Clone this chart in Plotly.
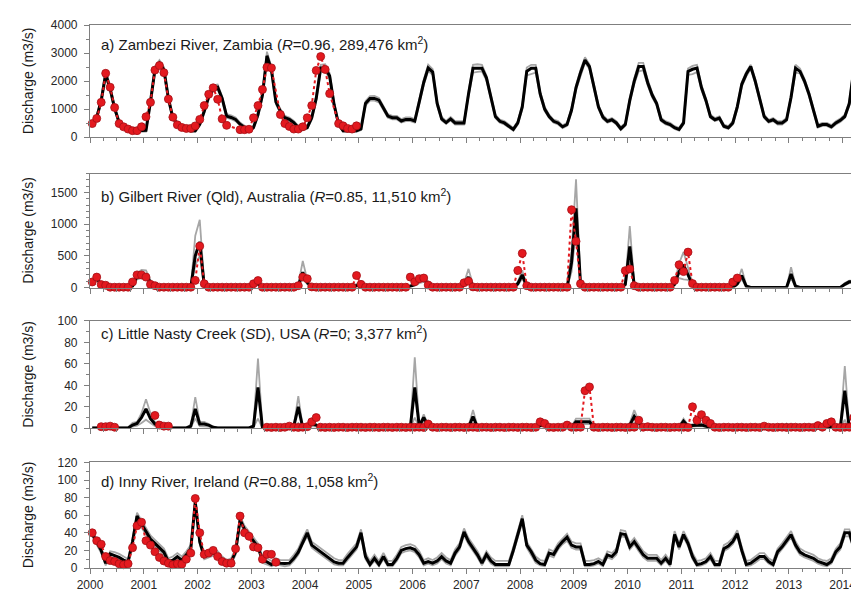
import plotly.graph_objects as go

# ---------------- data (monthly, Jan 2000 .. Mar 2014) ----------------
N_MONTHS = 171
YEAR_TICKS = list(range(2000, 2015))

# a) Zambezi River
PA_MODEL = [450, 700, 1300, 2250, 1720, 1030, 520, 345, 290, 230, 230, 230,
            240, 1260, 2410, 2640, 2410, 1380, 690, 460, 345, 290, 230, 230,
            460, 920, 1440, 1720, 1780, 1380, 750, 700, 630, 460, 345, 230,
            345, 800, 1500, 2900, 2400, 1260, 920, 690, 630, 520, 345, 290,
            345, 690, 1380, 2470, 2470, 2180, 1150, 460, 230, 230, 230, 230,
            290, 1200, 1380, 1380, 1320, 1030, 750, 690, 690, 575, 630, 630,
            575, 1260, 1950, 2470, 2320, 1200, 650, 520, 650, 505, 505, 505,
            1540, 2460, 2460, 2460, 2115, 1425, 735, 563, 505, 390, 275, 505,
            1080, 2345, 2460, 2460, 1540, 1000, 735, 563, 505, 368, 448, 965,
            1770, 2300, 2750, 2517, 1828, 1080, 712, 563, 620, 505, 300, 448,
            1310, 2000, 2517, 2517, 1942, 1500, 1195, 620, 505, 448, 333, 276,
            505, 2345, 2420, 2460, 1770, 1310, 735, 620, 678, 390, 333, 505,
            1080, 1885, 2250, 2517, 2000, 1368, 735, 563, 620, 505, 505, 620,
            1425, 2460, 2345, 2000, 1540, 965, 390, 448, 448, 368, 505, 600,
            735, 1195, 2400]
PA_UPPER = [520, 780, 1400, 2400, 1820, 1100, 580, 400, 340, 280, 280, 280,
            300, 1350, 2520, 2750, 2500, 1450, 750, 520, 400, 340, 280, 280,
            520, 1000, 1540, 1850, 1880, 1450, 820, 780, 700, 520, 400, 290,
            400, 880, 1600, 3050, 2500, 1350, 1000, 760, 700, 580, 400, 340,
            400, 760, 1480, 2580, 2600, 2280, 1230, 520, 290, 290, 290, 290,
            340, 1280, 1460, 1470, 1400, 1100, 820, 760, 760, 640, 700, 700,
            640, 1340, 2050, 2580, 2420, 1280, 720, 580, 720, 570, 570, 570,
            1620, 2580, 2600, 2580, 2200, 1500, 800, 620, 570, 450, 330, 570,
            1160, 2480, 2580, 2580, 1620, 1080, 800, 620, 570, 420, 510, 1040,
            1850, 2400, 2850, 2600, 1900, 1150, 780, 620, 680, 570, 360, 510,
            1400, 2100, 2650, 2650, 2050, 1580, 1260, 680, 570, 510, 390, 330,
            570, 2450, 2540, 2580, 1860, 1380, 800, 680, 740, 450, 390, 570,
            1160, 1960, 2330, 2580, 2080, 1440, 800, 620, 680, 570, 570, 680,
            1500, 2580, 2450, 2080, 1620, 1030, 450, 510, 510, 430, 570, 660,
            800, 1280, 2500]
PA_LOWER = [400, 640, 1220, 2150, 1640, 960, 470, 300, 250, 190, 190, 190,
            200, 1180, 2300, 2520, 2300, 1300, 630, 410, 300, 250, 190, 190,
            400, 850, 1360, 1640, 1700, 1300, 690, 640, 570, 410, 300, 190,
            300, 730, 1420, 2780, 2300, 1180, 850, 630, 570, 470, 300, 250,
            300, 630, 1300, 2360, 2360, 2080, 1080, 410, 190, 190, 190, 190,
            250, 1120, 1300, 1300, 1240, 960, 690, 630, 630, 520, 570, 570,
            520, 1180, 1860, 2360, 2220, 1120, 590, 470, 590, 450, 450, 450,
            1450, 2300, 2330, 2350, 2020, 1350, 680, 510, 450, 340, 230, 450,
            1000, 2200, 2250, 2300, 1460, 930, 680, 510, 450, 320, 400, 890,
            1680, 2200, 2650, 2430, 1750, 1010, 650, 510, 570, 450, 250, 400,
            1230, 1900, 2350, 2380, 1840, 1420, 1130, 570, 450, 400, 290, 230,
            450, 2220, 2250, 2320, 1680, 1240, 680, 570, 620, 340, 290, 450,
            1000, 1800, 2170, 2430, 1920, 1300, 680, 510, 570, 450, 450, 570,
            1350, 2300, 2270, 1920, 1460, 900, 340, 400, 400, 320, 450, 540,
            680, 1120, 2300]
PA_OBS = [483, 667, 1241, 2276, 1780, 1057, 483, 368, 287, 230, 230, 368,
          724, 1241, 2391, 2552, 2299, 1356, 713, 437, 345, 310, 310, 400,
          632, 1126, 1529, 1759, 1350, 650, 420, None, None, 265, 265, 280,
          690, 1126, 1700, 2494, 2470, None, 805, 483, 380, 287, 287, 368,
          690, 1126, 2379, 2874, 2414, 1552, None, 483, 402, 310, 287, 402] + [None] * 111

# b) Gilbert River
PB_MODEL = [90, 150, 40, 15, 0, 0, 0, 0, 0, 20, 180, 210,
            200, 80, 10, 0, 0, 0, 0, 0, 0, 0, 0, 500,
            720, 30, 0, 0, 0, 0, 0, 0, 0, 0, 0, 10,
            50, 60, 10, 0, 0, 0, 0, 0, 0, 0, 30, 240,
            80, 5, 0, 0, 0, 0, 0, 0, 0, 0, 5, 30,
            20, 0, 0, 0, 0, 0, 0, 0, 0, 0, 0, 20,
            50, 110, 130, 60, 5, 0, 0, 0, 0, 0, 0, 40,
            165, 20, 0, 0, 0, 0, 0, 0, 0, 0, 0, 60,
            200, 20, 0, 0, 0, 0, 0, 0, 0, 0, 0, 400,
            1250, 60, 0, 0, 0, 0, 0, 0, 0, 0, 0, 50,
            650, 30, 0, 0, 0, 0, 0, 0, 0, 0, 50, 250,
            360, 200, 40, 0, 0, 0, 0, 0, 0, 0, 0, 0,
            60, 190, 20, 0, 0, 0, 0, 0, 0, 0, 0, 0,
            215, 20, 0, 0, 0, 0, 0, 0, 0, 0, 0, 0,
            50, 90, 90]
PB_UPPER = [110, 180, 60, 25, 5, 5, 5, 5, 5, 40, 230, 280,
            270, 120, 20, 5, 5, 5, 5, 5, 5, 5, 5, 820,
            1070, 60, 5, 5, 5, 5, 5, 5, 5, 5, 5, 20,
            80, 100, 20, 5, 5, 5, 5, 5, 5, 5, 50, 420,
            120, 15, 5, 5, 5, 5, 5, 5, 5, 5, 10, 60,
            40, 5, 5, 5, 5, 5, 5, 5, 5, 5, 5, 40,
            80, 150, 180, 90, 10, 5, 5, 5, 5, 5, 5, 70,
            295, 40, 5, 5, 5, 5, 5, 5, 5, 5, 5, 90,
            270, 40, 5, 5, 5, 5, 5, 5, 5, 5, 5, 550,
            1710, 100, 5, 5, 5, 5, 5, 5, 5, 5, 5, 80,
            970, 60, 5, 5, 5, 5, 5, 5, 5, 5, 80, 380,
            560, 300, 70, 5, 5, 5, 5, 5, 5, 5, 5, 5,
            90, 295, 40, 5, 5, 5, 5, 5, 5, 5, 5, 5,
            320, 40, 5, 5, 5, 5, 5, 5, 5, 5, 5, 5,
            70, 110, 110]
PB_LOWER = [70, 120, 30, 10, 0, 0, 0, 0, 0, 10, 130, 150,
            140, 50, 5, 0, 0, 0, 0, 0, 0, 0, 0, 350,
            500, 20, 0, 0, 0, 0, 0, 0, 0, 0, 0, 5,
            30, 40, 5, 0, 0, 0, 0, 0, 0, 0, 20, 150,
            50, 0, 0, 0, 0, 0, 0, 0, 0, 0, 0, 20,
            10, 0, 0, 0, 0, 0, 0, 0, 0, 0, 0, 10,
            30, 70, 90, 40, 0, 0, 0, 0, 0, 0, 0, 25,
            100, 10, 0, 0, 0, 0, 0, 0, 0, 0, 0, 40,
            140, 10, 0, 0, 0, 0, 0, 0, 0, 0, 0, 250,
            900, 40, 0, 0, 0, 0, 0, 0, 0, 0, 0, 30,
            420, 20, 0, 0, 0, 0, 0, 0, 0, 0, 30, 150,
            130, 120, 20, 0, 0, 0, 0, 0, 0, 0, 0, 0,
            40, 130, 10, 0, 0, 0, 0, 0, 0, 0, 0, 0,
            150, 10, 0, 0, 0, 0, 0, 0, 0, 0, 0, 0,
            35, 70, 70]
PB_OBS = [88, 165, 46, 36, 5, 5, 5, 5, 5, 88, 200, 200,
          165, 50, 30, 5, 5, 5, 5, 5, 5, 5, 5, 113,
          655, 60, 5, 5, 5, 5, 5, 5, 5, 5, 5, 5,
          60, 110, 5, 5, 5, 5, 5, 5, 5, 5, 30, 165,
          140, 10, 5, 5, 5, 5, 5, 5, 5, 5, 5, 190,
          50, 5, 5, 5, 5, 5, 5, 5, 5, 5, 5, 165,
          90, 140, 150, 40, 5, 5, 5, 5, 5, 5, 5, 75,
          100, 10, 5, 5, 5, 5, 5, 5, 5, 5, 5, 270,
          540, 30, 5, 5, 5, 5, 5, 5, 5, 5, 5, 1230,
          730, 60, 5, 5, 5, 5, 5, 5, 5, 5, 5, 267,
          293, 30, 5, 5, 5, 5, 5, 5, 5, 5, 113, 360,
          252, 560, 62, 5, 5, 5, 5, 5, 5, 5, 5, 86,
          150] + [None] * 26

# c) Little Nasty Creek
PC_MODEL = [0.3, 0.3, 0.3, 0.3, 0.3, 0.3, 0.3, 0.3, 0.3, 3, 4.5, 10,
            18, 9, 4, 2, 0.5, 0.3, 0.3, 0.3, 0.3, 0.3, 2, 18,
            4, 4, 3, 1, 0.3, 0.3, 0.3, 0.3, 0.3, 0.3, 0.3, 0.3,
            2, 38, 0.5, 0.3, 0.3, 0.3, 0.3, 0.3, 0.3, 2, 20, 0.5,
            2, 4, 3, 0.5, 0.3, 0.3, 0.3, 0.3, 0.3, 0.3, 0.3, 0.3,
            0.3, 0.3, 0.3, 0.3, 0.3, 0.3, 0.3, 0.3, 0.3, 0.3, 0.3, 0.5,
            38, 2, 10, 2, 0.5, 0.3, 0.3, 0.3, 0.3, 0.3, 0.3, 0.3,
            1, 11, 1, 0.3, 0.3, 0.3, 0.3, 0.3, 0.3, 0.3, 0.3, 0.3,
            0.3, 0.3, 0.3, 1, 2.5, 3, 1, 0.3, 0.3, 0.3, 0.3, 1,
            6, 6, 6, 6, 1, 0.3, 0.3, 0.3, 0.3, 0.3, 0.3, 1,
            3, 11, 5, 2, 0.5, 0.3, 0.3, 0.3, 0.3, 0.3, 0.3, 1,
            6.7, 2, 2.5, 3, 3, 2, 0.5, 0.3, 0.3, 0.3, 0.3, 0.3,
            0.3, 0.3, 0.3, 0.3, 0.3, 0.3, 0.3, 0.3, 0.3, 0.3, 1, 3,
            1, 0.3, 0.3, 0.3, 0.3, 0.3, 0.3, 0.3, 1, 1.5, 1, 1,
            35, 0.5, 0.5]
PC_UPPER = [0.8, 0.8, 0.8, 0.8, 0.8, 0.8, 0.8, 0.8, 0.8, 5, 6, 14,
            27, 14, 6, 3, 1, 0.8, 0.8, 0.8, 0.8, 0.8, 3, 29,
            6, 6, 4, 1.5, 0.8, 0.8, 0.8, 0.8, 0.8, 0.8, 0.8, 0.8,
            3, 65, 1, 0.8, 0.8, 0.8, 0.8, 0.8, 0.8, 3, 30, 1,
            3, 6, 4, 1, 0.8, 0.8, 0.8, 0.8, 0.8, 0.8, 0.8, 0.8,
            0.8, 0.8, 0.8, 0.8, 0.8, 0.8, 0.8, 0.8, 0.8, 0.8, 0.8, 1,
            66, 3, 13, 3, 1, 0.8, 0.8, 0.8, 0.8, 0.8, 0.8, 0.8,
            2, 17, 2, 0.8, 0.8, 0.8, 0.8, 0.8, 0.8, 0.8, 0.8, 0.8,
            0.8, 0.8, 0.8, 2, 4, 4.5, 2, 0.8, 0.8, 0.8, 0.8, 2,
            9, 9, 9, 9, 2, 0.8, 0.8, 0.8, 0.8, 0.8, 0.8, 2,
            5, 17, 7, 3, 1, 0.8, 0.8, 0.8, 0.8, 0.8, 0.8, 2,
            9, 3, 4, 4.5, 4.5, 3, 1, 0.8, 0.8, 0.8, 0.8, 0.8,
            0.8, 0.8, 0.8, 0.8, 0.8, 0.8, 0.8, 0.8, 0.8, 0.8, 2, 4.5,
            2, 0.8, 0.8, 0.8, 0.8, 0.8, 0.8, 0.8, 2, 2.5, 2, 2,
            58, 1, 1]
PC_LOWER = [0, 0, 0, 0, 0, 0, 0, 0, 0, 1.5, 2.5, 5,
            8, 5, 2, 1, 0.2, 0, 0, 0, 0, 0, 1, 9,
            2, 2, 1.5, 0.5, 0, 0, 0, 0, 0, 0, 0, 0,
            1, 9, 0.2, 0, 0, 0, 0, 0, 0, 1, 5, 0.2,
            1, 2, 1.5, 0.2, 0, 0, 0, 0, 0, 0, 0, 0,
            0, 0, 0, 0, 0, 0, 0, 0, 0, 0, 0, 0.2,
            10, 1, 6, 1, 0.2, 0, 0, 0, 0, 0, 0, 0,
            0.5, 5, 0.5, 0, 0, 0, 0, 0, 0, 0, 0, 0,
            0, 0, 0, 0.5, 1.5, 2, 0.5, 0, 0, 0, 0, 0.5,
            4, 4, 4, 4, 0.5, 0, 0, 0, 0, 0, 0, 0.5,
            1.5, 5, 3, 1, 0.2, 0, 0, 0, 0, 0, 0, 0.5,
            4, 1, 1.5, 2, 2, 1, 0.2, 0, 0, 0, 0, 0,
            0, 0, 0, 0, 0, 0, 0, 0, 0, 0, 0.5, 2,
            0.5, 0, 0, 0, 0, 0, 0, 0, 0.5, 1, 0.5, 0.5,
            8, 0.2, 0.2]
PC_OBS = [None, None, 1.5, 1.5, 2, 1, None, None, None, None, None, None,
          None, None, 12, 3, 2, 2, None, None, None, None, None, None,
          None, None, None, None, None, None, None, None, None, None, None, None,
          None, None, None, 1, 0.8, 1, 0.8, 1, 2, 1, 0.8, 1,
          1.5, 6, 10, 1, 0.8, 1, 0.8, 1, 1, 0.8, 1, 1,
          1, 0.8, 1, 1, 0.8, 1, 1, 0.8, 1, 1, 0.8, 1,
          1, 1, 0.8, 4, 1, 0.8, 1, 1, 0.8, 1, 1, 0.8,
          1, 1, 0.8, 1, 1, 0.8, 1, 1, 0.8, 1, 1, 0.8,
          1, 1, 0.8, 1, 6, 4.5, 1, 0.8, 1, 1, 3, 1,
          1, 1, 35, 38.5, 1, 0.8, 1, 1, 0.8, 1, 1, 0.8,
          1, 1, 7.5, 1, 1.5, 1, 0.8, 1, 1, 0.8, 1, 1,
          1, 0.8, 20, 7.5, 12.7, 7.5, 4.5, 1, 0.8, 1, 1, 0.8,
          1, 1, 0.8, 1, 1, 0.8, 2, 1, 0.8, 1, 1, 0.8,
          1, 1, 0.8, 1, 1, 0.8, 2.5, 1, 4.5, 6, 1, 0.8,
          1, 1, 10]

# d) Inny River
PD_MODEL = [39, 30, 20, 5.5, 16, 14, 12, 9, 7, 30, 59, 50,
            42, 33, 28, 23, 18, 7, 9, 13, 9, 15, 22, 75,
            30, 13, 15, 17, 15, 9, 5.5, 7, 18, 55, 44, 37,
            30, 24, 9, 7, 4, 7, 5.5, 5, 5.5, 11, 18, 30,
            40, 26, 22, 18, 15, 11, 7, 5.5, 5.5, 12, 18, 24,
            40, 13, 4, 11, 4, 13, 4, 4, 11, 20, 22, 23,
            21, 15, 5.5, 7.4, 5.5, 8, 13, 8, 5.5, 17, 24, 41,
            30, 23, 15, 5.5, 15.5, 8, 4, 4, 4, 4, 20, 37,
            56, 26, 18.5, 9, 5, 4, 17, 15.5, 24, 30, 35, 26,
            24, 24, 4, 4, 5, 7.4, 4, 15, 13, 18.5, 39, 38,
            24, 30, 22, 15, 11, 11, 11, 5.5, 11, 4, 38, 24,
            38, 28, 13, 4, 5, 7.4, 13, 4, 4, 22, 25, 30,
            39, 20, 4, 5.5, 9, 13, 13, 7.4, 4, 18.5, 24, 31,
            38, 26, 18, 15, 13, 11, 7.4, 5.5, 4, 7.4, 18.5, 24,
            40, 40, 24]
PD_UPPER = [42, 33, 23, 9, 19, 18, 16, 13, 10, 33, 63, 54,
            46, 37, 32, 27, 22, 11, 13, 17, 13, 19, 26, 79,
            34, 17, 19, 21, 19, 13, 9, 11, 22, 59, 48, 41,
            34, 28, 13, 11, 8, 11, 9, 9, 9, 15, 22, 34,
            44, 30, 26, 22, 19, 15, 11, 9, 9, 16, 22, 28,
            44, 17, 8, 15, 8, 17, 8, 8, 15, 24, 26, 27,
            25, 19, 9, 11, 9, 12, 17, 12, 9, 21, 28, 45,
            34, 27, 19, 9, 19, 12, 8, 8, 8, 8, 24, 41,
            60, 30, 22, 13, 9, 8, 21, 19, 28, 34, 39, 30,
            28, 28, 8, 8, 9, 11, 8, 19, 17, 22, 43, 42,
            28, 34, 26, 19, 15, 15, 15, 9, 15, 8, 42, 28,
            42, 32, 17, 8, 9, 11, 17, 8, 8, 26, 29, 34,
            43, 24, 8, 9, 13, 17, 17, 11, 8, 22, 28, 35,
            42, 30, 22, 19, 17, 15, 11, 9, 8, 11, 22, 28,
            44, 44, 28]
PD_LOWER = [36, 27, 17, 3, 12, 11, 9, 6, 4, 27, 55, 46,
            38, 30, 25, 20, 15, 4, 6, 10, 6, 12, 19, 70,
            27, 10, 12, 14, 12, 6, 3, 4, 15, 51, 41, 34,
            27, 21, 6, 4, 2, 4, 3, 2, 3, 8, 15, 27,
            36, 23, 19, 15, 12, 8, 4, 3, 3, 9, 15, 21,
            36, 10, 2, 8, 2, 10, 2, 2, 8, 17, 19, 20,
            18, 12, 3, 5, 3, 5, 10, 5, 3, 14, 21, 37,
            27, 20, 12, 3, 12, 5, 2, 2, 2, 2, 17, 34,
            52, 23, 15, 6, 3, 2, 14, 12, 21, 27, 31, 23,
            21, 21, 2, 2, 3, 5, 2, 12, 10, 15, 36, 35,
            21, 27, 19, 12, 8, 8, 8, 3, 8, 2, 35, 21,
            35, 25, 10, 2, 3, 5, 10, 2, 2, 19, 22, 27,
            36, 17, 2, 3, 6, 10, 10, 5, 2, 15, 21, 28,
            35, 23, 15, 12, 10, 8, 5, 3, 2, 5, 15, 21,
            36, 36, 21]
PD_OBS = [40, 31, 27, 13, 8.5, 7.4, 4.8, 3.7, 4.8, 23, 48, 52,
          31, 26, 18.5, 12, 8, 5.5, 3.7, 4.8, 4.4, 10, 17, 79,
          40, 15.5, 17, 20, 13, 7.4, 5.5, 5.5, 22, 59, 40, 36,
          24, 23, 10, 15.5, 15.5, 6.6] + [None] * 129

TITLES = [
    "a) Zambezi River, Zambia (<i>R</i>=0.96, 289,476 km<sup>2</sup>)",
    "b) Gilbert River (Qld), Australia (<i>R</i>=0.85, 11,510 km<sup>2</sup>)",
    "c) Little Nasty Creek (<i>S</i>D), USA (<i>R</i>=0; 3,377 km<sup>2</sup>)",
    "d) Inny River, Ireland (<i>R</i>=0.88, 1,058 km<sup>2</sup>)",
]
Y_RANGES = [[0, 4000], [0, 1800], [0, 100], [0, 120]]
Y_DTICK = [1000, 500, 20, 20]
Y_MINOR = [500, 100, 10, 10]
Y_TITLE = "Discharge (m3/s)"

# ---------------- figure ----------------
X = [2000 + (m + 0.5) / 12 for m in range(N_MONTHS)]

FONT = "Liberation Sans, Arial, sans-serif"
AXC = "#7f7f7f"
GREY = "#a6a6a6"
RED = "#e3191f"

W, H = 859, 594
ML, MR, MT, MB = 82, 10, 13, 24
plot_h = H - MT - MB
PANEL_PX = [(13, 128), (165.5, 282.3), (316.5, 426.7), (461.7, 570)]
TITLE_PX = [32, 188, 328, 480]


def py(px):
    return (H - MB - px) / plot_h


panels = [
    (PA_MODEL, PA_UPPER, PA_LOWER, PA_OBS, True),
    (PB_MODEL, PB_UPPER, PB_LOWER, PB_OBS, False),
    (PC_MODEL, PC_UPPER, PC_LOWER, PC_OBS, False),
    (PD_MODEL, PD_UPPER, PD_LOWER, PD_OBS, False),
]

fig = go.Figure()
layout = dict(
    width=W, height=H,
    margin=dict(l=ML, r=MR, t=MT, b=MB),
    paper_bgcolor="white", plot_bgcolor="white",
    showlegend=False,
    font=dict(family=FONT, size=12, color="#262626"),
)
annotations = []

for k, (model, upper, lower, obs, gaps) in enumerate(panels):
    sfx = "" if k == 0 else str(k + 1)
    xa, ya = "x" + sfx, "y" + sfx
    for arr in (upper, lower):
        fig.add_trace(go.Scatter(x=X, y=arr, mode="lines", xaxis=xa, yaxis=ya,
                                 line=dict(color=GREY, width=1.8), hoverinfo="skip"))
    fig.add_trace(go.Scatter(x=X, y=model, mode="lines", xaxis=xa, yaxis=ya,
                             line=dict(color="black", width=3)))
    fig.add_trace(go.Scatter(x=X, y=obs, mode="lines+markers", xaxis=xa, yaxis=ya,
                             connectgaps=gaps, cliponaxis=False,
                             line=dict(color=RED, width=2, dash="dot"),
                             marker=dict(size=8, color=RED,
                                         line=dict(color="#a50f15", width=0.8))))
    top, bot = PANEL_PX[k]
    layout["xaxis" + sfx] = dict(
        domain=[0, 1], anchor=ya, range=[2000, 2014.25],
        tickmode="array", tickvals=YEAR_TICKS, ticktext=[str(t) for t in YEAR_TICKS],
        ticks="outside", ticklen=5, tickwidth=1, tickcolor=AXC,
        showline=True, linecolor=AXC, linewidth=1.2, mirror=True,
        showgrid=False, zeroline=False, showticklabels=(k == 3),
        tickfont=dict(family=FONT, size=12, color="#262626"),
        minor=dict(tickmode="linear", tick0=2000, dtick=0.25, ticks="outside",
                   ticklen=3, tickcolor=AXC, showgrid=False),
    )
    layout["yaxis" + sfx] = dict(
        domain=[py(bot), py(top)], anchor=xa, range=Y_RANGES[k],
        tickmode="linear", tick0=0, dtick=Y_DTICK[k],
        ticks="outside", ticklen=5, tickwidth=1, tickcolor=AXC,
        showline=True, linecolor=AXC, linewidth=1.2, mirror=True,
        showgrid=False, zeroline=False,
        tickfont=dict(family=FONT, size=12, color="#262626"),
        ticklabelstandoff=4,
        minor=dict(tickmode="linear", tick0=0, dtick=Y_MINOR[k], ticks="outside",
                   ticklen=3, tickcolor=AXC, showgrid=False),
    )
    annotations.append(dict(
        text=TITLES[k], xref="paper", yref="paper",
        x=(91 - ML) / (W - ML - MR), y=py(TITLE_PX[k]),
        xanchor="left", yanchor="middle", showarrow=False,
        font=dict(family=FONT, size=15, color="#1a1a1a"),
    ))
    annotations.append(dict(
        text=Y_TITLE, xref="paper", yref="paper",
        x=(20 - ML) / (W - ML - MR), y=py((top + bot) / 2),
        xanchor="center", yanchor="middle", textangle=-90, showarrow=False,
        font=dict(family=FONT, size=14, color="#1a1a1a"),
    ))

layout["annotations"] = annotations
fig.update_layout(**layout)
fig.write_html("out.html")
